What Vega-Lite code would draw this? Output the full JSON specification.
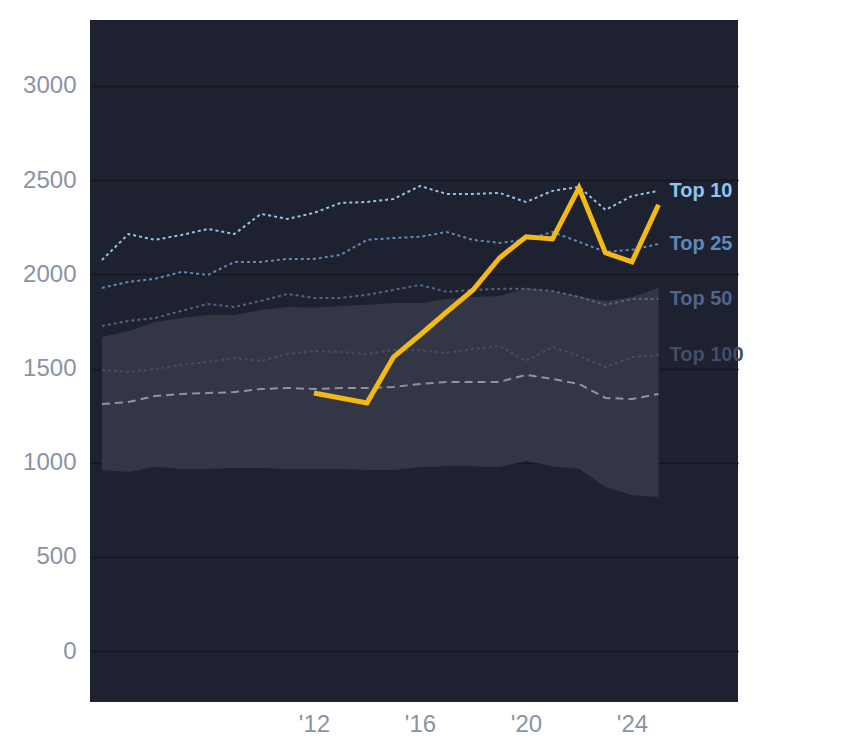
{
  "$schema": "https://vega.github.io/schema/vega-lite/v6.json",
  "autosize": "none",
  "padding": {"left": 90, "top": 20, "right": 106, "bottom": 46},
  "width": 648,
  "height": 682,
  "background": "white",
  "config": {
    "view": {"fill": "#1d2130", "stroke": null},
    "axis": {"domain": false, "ticks": false, "labelColor": "#8a93a3", "labelFontSize": 24, "labelFont": "Liberation Sans", "title": null}
  },
  "datasets": {
    "band": [
      {"year": 2004, "lo": 961, "hi": 1668}, {"year": 2005, "lo": 951, "hi": 1699}, {"year": 2006, "lo": 977, "hi": 1747},
      {"year": 2007, "lo": 967, "hi": 1768}, {"year": 2008, "lo": 967, "hi": 1784}, {"year": 2009, "lo": 972, "hi": 1784},
      {"year": 2010, "lo": 972, "hi": 1811}, {"year": 2011, "lo": 967, "hi": 1827}, {"year": 2012, "lo": 967, "hi": 1822},
      {"year": 2013, "lo": 967, "hi": 1832}, {"year": 2014, "lo": 961, "hi": 1838}, {"year": 2015, "lo": 961, "hi": 1848},
      {"year": 2016, "lo": 977, "hi": 1848}, {"year": 2017, "lo": 982, "hi": 1869}, {"year": 2018, "lo": 982, "hi": 1880},
      {"year": 2019, "lo": 977, "hi": 1885}, {"year": 2020, "lo": 1009, "hi": 1928}, {"year": 2021, "lo": 982, "hi": 1912},
      {"year": 2022, "lo": 967, "hi": 1885}, {"year": 2023, "lo": 871, "hi": 1859}, {"year": 2024, "lo": 828, "hi": 1880},
      {"year": 2025, "lo": 818, "hi": 1928}
    ],
    "lines": [
      {"series": "Top 10", "year": 2004, "value": 2076}, {"series": "Top 10", "year": 2005, "value": 2214}, {"series": "Top 10", "year": 2006, "value": 2183},
      {"series": "Top 10", "year": 2007, "value": 2209}, {"series": "Top 10", "year": 2008, "value": 2241}, {"series": "Top 10", "year": 2009, "value": 2214},
      {"series": "Top 10", "year": 2010, "value": 2321}, {"series": "Top 10", "year": 2011, "value": 2294}, {"series": "Top 10", "year": 2012, "value": 2326},
      {"series": "Top 10", "year": 2013, "value": 2379}, {"series": "Top 10", "year": 2014, "value": 2384}, {"series": "Top 10", "year": 2015, "value": 2400},
      {"series": "Top 10", "year": 2016, "value": 2469}, {"series": "Top 10", "year": 2017, "value": 2427}, {"series": "Top 10", "year": 2018, "value": 2427},
      {"series": "Top 10", "year": 2019, "value": 2432}, {"series": "Top 10", "year": 2020, "value": 2384}, {"series": "Top 10", "year": 2021, "value": 2443},
      {"series": "Top 10", "year": 2022, "value": 2464}, {"series": "Top 10", "year": 2023, "value": 2342}, {"series": "Top 10", "year": 2024, "value": 2416},
      {"series": "Top 10", "year": 2025, "value": 2443},
      {"series": "Top 25", "year": 2004, "value": 1928}, {"series": "Top 25", "year": 2005, "value": 1960}, {"series": "Top 25", "year": 2006, "value": 1976},
      {"series": "Top 25", "year": 2007, "value": 2013}, {"series": "Top 25", "year": 2008, "value": 1997}, {"series": "Top 25", "year": 2009, "value": 2066},
      {"series": "Top 25", "year": 2010, "value": 2066}, {"series": "Top 25", "year": 2011, "value": 2082}, {"series": "Top 25", "year": 2012, "value": 2082},
      {"series": "Top 25", "year": 2013, "value": 2103}, {"series": "Top 25", "year": 2014, "value": 2183}, {"series": "Top 25", "year": 2015, "value": 2193},
      {"series": "Top 25", "year": 2016, "value": 2199}, {"series": "Top 25", "year": 2017, "value": 2225}, {"series": "Top 25", "year": 2018, "value": 2183},
      {"series": "Top 25", "year": 2019, "value": 2167}, {"series": "Top 25", "year": 2020, "value": 2183}, {"series": "Top 25", "year": 2021, "value": 2225},
      {"series": "Top 25", "year": 2022, "value": 2172}, {"series": "Top 25", "year": 2023, "value": 2119}, {"series": "Top 25", "year": 2024, "value": 2130},
      {"series": "Top 25", "year": 2025, "value": 2161},
      {"series": "Top 50", "year": 2004, "value": 1726}, {"series": "Top 50", "year": 2005, "value": 1753}, {"series": "Top 50", "year": 2006, "value": 1768},
      {"series": "Top 50", "year": 2007, "value": 1806}, {"series": "Top 50", "year": 2008, "value": 1843}, {"series": "Top 50", "year": 2009, "value": 1827},
      {"series": "Top 50", "year": 2010, "value": 1859}, {"series": "Top 50", "year": 2011, "value": 1896}, {"series": "Top 50", "year": 2012, "value": 1875},
      {"series": "Top 50", "year": 2013, "value": 1875}, {"series": "Top 50", "year": 2014, "value": 1891}, {"series": "Top 50", "year": 2015, "value": 1917},
      {"series": "Top 50", "year": 2016, "value": 1944}, {"series": "Top 50", "year": 2017, "value": 1907}, {"series": "Top 50", "year": 2018, "value": 1917},
      {"series": "Top 50", "year": 2019, "value": 1923}, {"series": "Top 50", "year": 2020, "value": 1923}, {"series": "Top 50", "year": 2021, "value": 1912},
      {"series": "Top 50", "year": 2022, "value": 1880}, {"series": "Top 50", "year": 2023, "value": 1838}, {"series": "Top 50", "year": 2024, "value": 1869},
      {"series": "Top 50", "year": 2025, "value": 1869},
      {"series": "Top 100", "year": 2004, "value": 1492}, {"series": "Top 100", "year": 2005, "value": 1482}, {"series": "Top 100", "year": 2006, "value": 1498},
      {"series": "Top 100", "year": 2007, "value": 1519}, {"series": "Top 100", "year": 2008, "value": 1535}, {"series": "Top 100", "year": 2009, "value": 1556},
      {"series": "Top 100", "year": 2010, "value": 1540}, {"series": "Top 100", "year": 2011, "value": 1577}, {"series": "Top 100", "year": 2012, "value": 1593},
      {"series": "Top 100", "year": 2013, "value": 1588}, {"series": "Top 100", "year": 2014, "value": 1577}, {"series": "Top 100", "year": 2015, "value": 1598},
      {"series": "Top 100", "year": 2016, "value": 1598}, {"series": "Top 100", "year": 2017, "value": 1583}, {"series": "Top 100", "year": 2018, "value": 1604},
      {"series": "Top 100", "year": 2019, "value": 1620}, {"series": "Top 100", "year": 2020, "value": 1540}, {"series": "Top 100", "year": 2021, "value": 1614},
      {"series": "Top 100", "year": 2022, "value": 1567}, {"series": "Top 100", "year": 2023, "value": 1508}, {"series": "Top 100", "year": 2024, "value": 1561},
      {"series": "Top 100", "year": 2025, "value": 1572},
      {"series": "Median", "year": 2004, "value": 1312}, {"series": "Median", "year": 2005, "value": 1322}, {"series": "Median", "year": 2006, "value": 1354},
      {"series": "Median", "year": 2007, "value": 1365}, {"series": "Median", "year": 2008, "value": 1370}, {"series": "Median", "year": 2009, "value": 1375},
      {"series": "Median", "year": 2010, "value": 1391}, {"series": "Median", "year": 2011, "value": 1397}, {"series": "Median", "year": 2012, "value": 1391},
      {"series": "Median", "year": 2013, "value": 1397}, {"series": "Median", "year": 2014, "value": 1397}, {"series": "Median", "year": 2015, "value": 1402},
      {"series": "Median", "year": 2016, "value": 1418}, {"series": "Median", "year": 2017, "value": 1429}, {"series": "Median", "year": 2018, "value": 1429},
      {"series": "Median", "year": 2019, "value": 1429}, {"series": "Median", "year": 2020, "value": 1466}, {"series": "Median", "year": 2021, "value": 1445},
      {"series": "Median", "year": 2022, "value": 1418}, {"series": "Median", "year": 2023, "value": 1344}, {"series": "Median", "year": 2024, "value": 1338},
      {"series": "Median", "year": 2025, "value": 1365}
    ],
    "player": [
      {"year": 2012, "value": 1370}, {"year": 2014, "value": 1317}, {"year": 2015, "value": 1561},
      {"year": 2016, "value": 1678}, {"year": 2017, "value": 1800}, {"year": 2018, "value": 1917},
      {"year": 2019, "value": 2087}, {"year": 2020, "value": 2199}, {"year": 2021, "value": 2188},
      {"year": 2022, "value": 2459}, {"year": 2023, "value": 2114}, {"year": 2024, "value": 2066},
      {"year": 2025, "value": 2369}
    ]
  },
  "encoding": {
    "x": {
      "field": "year", "type": "quantitative",
      "scale": {"domain": [2003.55, 2028], "nice": false, "zero": false},
      "axis": {"values": [2012, 2014, 2016, 2018, 2020, 2022, 2024, 2025], "grid": false, "labelExpr": "\"'\" + substring(toString(datum.value), 2, 4)", "labelPadding": 10}
    }
  },
  "layer": [
    {
      "data": {"name": "band"},
      "mark": {"type": "area", "color": "#323645"},
      "encoding": {
        "y": {"field": "lo", "type": "quantitative", "scale": {"domain": [-270, 3350], "nice": false},
          "axis": {"values": [0, 500, 1000, 1500, 2000, 2500, 3000], "format": "d", "gridColor": "#141720", "gridWidth": 1.5, "labelPadding": 14}},
        "y2": {"field": "hi"}
      }
    },
    {
      "data": {"name": "lines"},
      "mark": {"type": "line", "strokeWidth": 2},
      "encoding": {
        "y": {"field": "value", "type": "quantitative"},
        "color": {"field": "series", "type": "nominal", "legend": null,
          "scale": {"domain": ["Top 10", "Top 25", "Top 50", "Top 100", "Median"], "range": ["#8ec5ee", "#5f89b8", "#4f6589", "#444d66", "#8d93a0"]}},
        "strokeDash": {"field": "series", "type": "nominal", "legend": null,
          "scale": {"domain": ["Top 10", "Top 25", "Top 50", "Top 100", "Median"], "range": [[3, 3], [3, 3], [3, 3], [3, 3], [8, 5]]}}
      }
    },
    {
      "data": {"name": "player"},
      "mark": {"type": "line", "color": "#f5b914", "strokeWidth": 5},
      "encoding": {"y": {"field": "value", "type": "quantitative"}}
    },
    {
      "data": {"name": "lines"},
      "transform": [{"filter": "datum.year == 2025 && datum.series != 'Median'"}],
      "mark": {"type": "text", "align": "left", "dx": 11, "fontSize": 20, "fontWeight": "bold", "font": "Liberation Sans"},
      "encoding": {
        "y": {"field": "value", "type": "quantitative"},
        "text": {"field": "series"},
        "color": {"field": "series", "type": "nominal", "legend": null,
          "scale": {"domain": ["Top 10", "Top 25", "Top 50", "Top 100", "Median"], "range": ["#a8d8ff", "#6fa0cc", "#5a7194", "#3f4d66", "#8d93a0"]}}
      }
    }
  ]
}
